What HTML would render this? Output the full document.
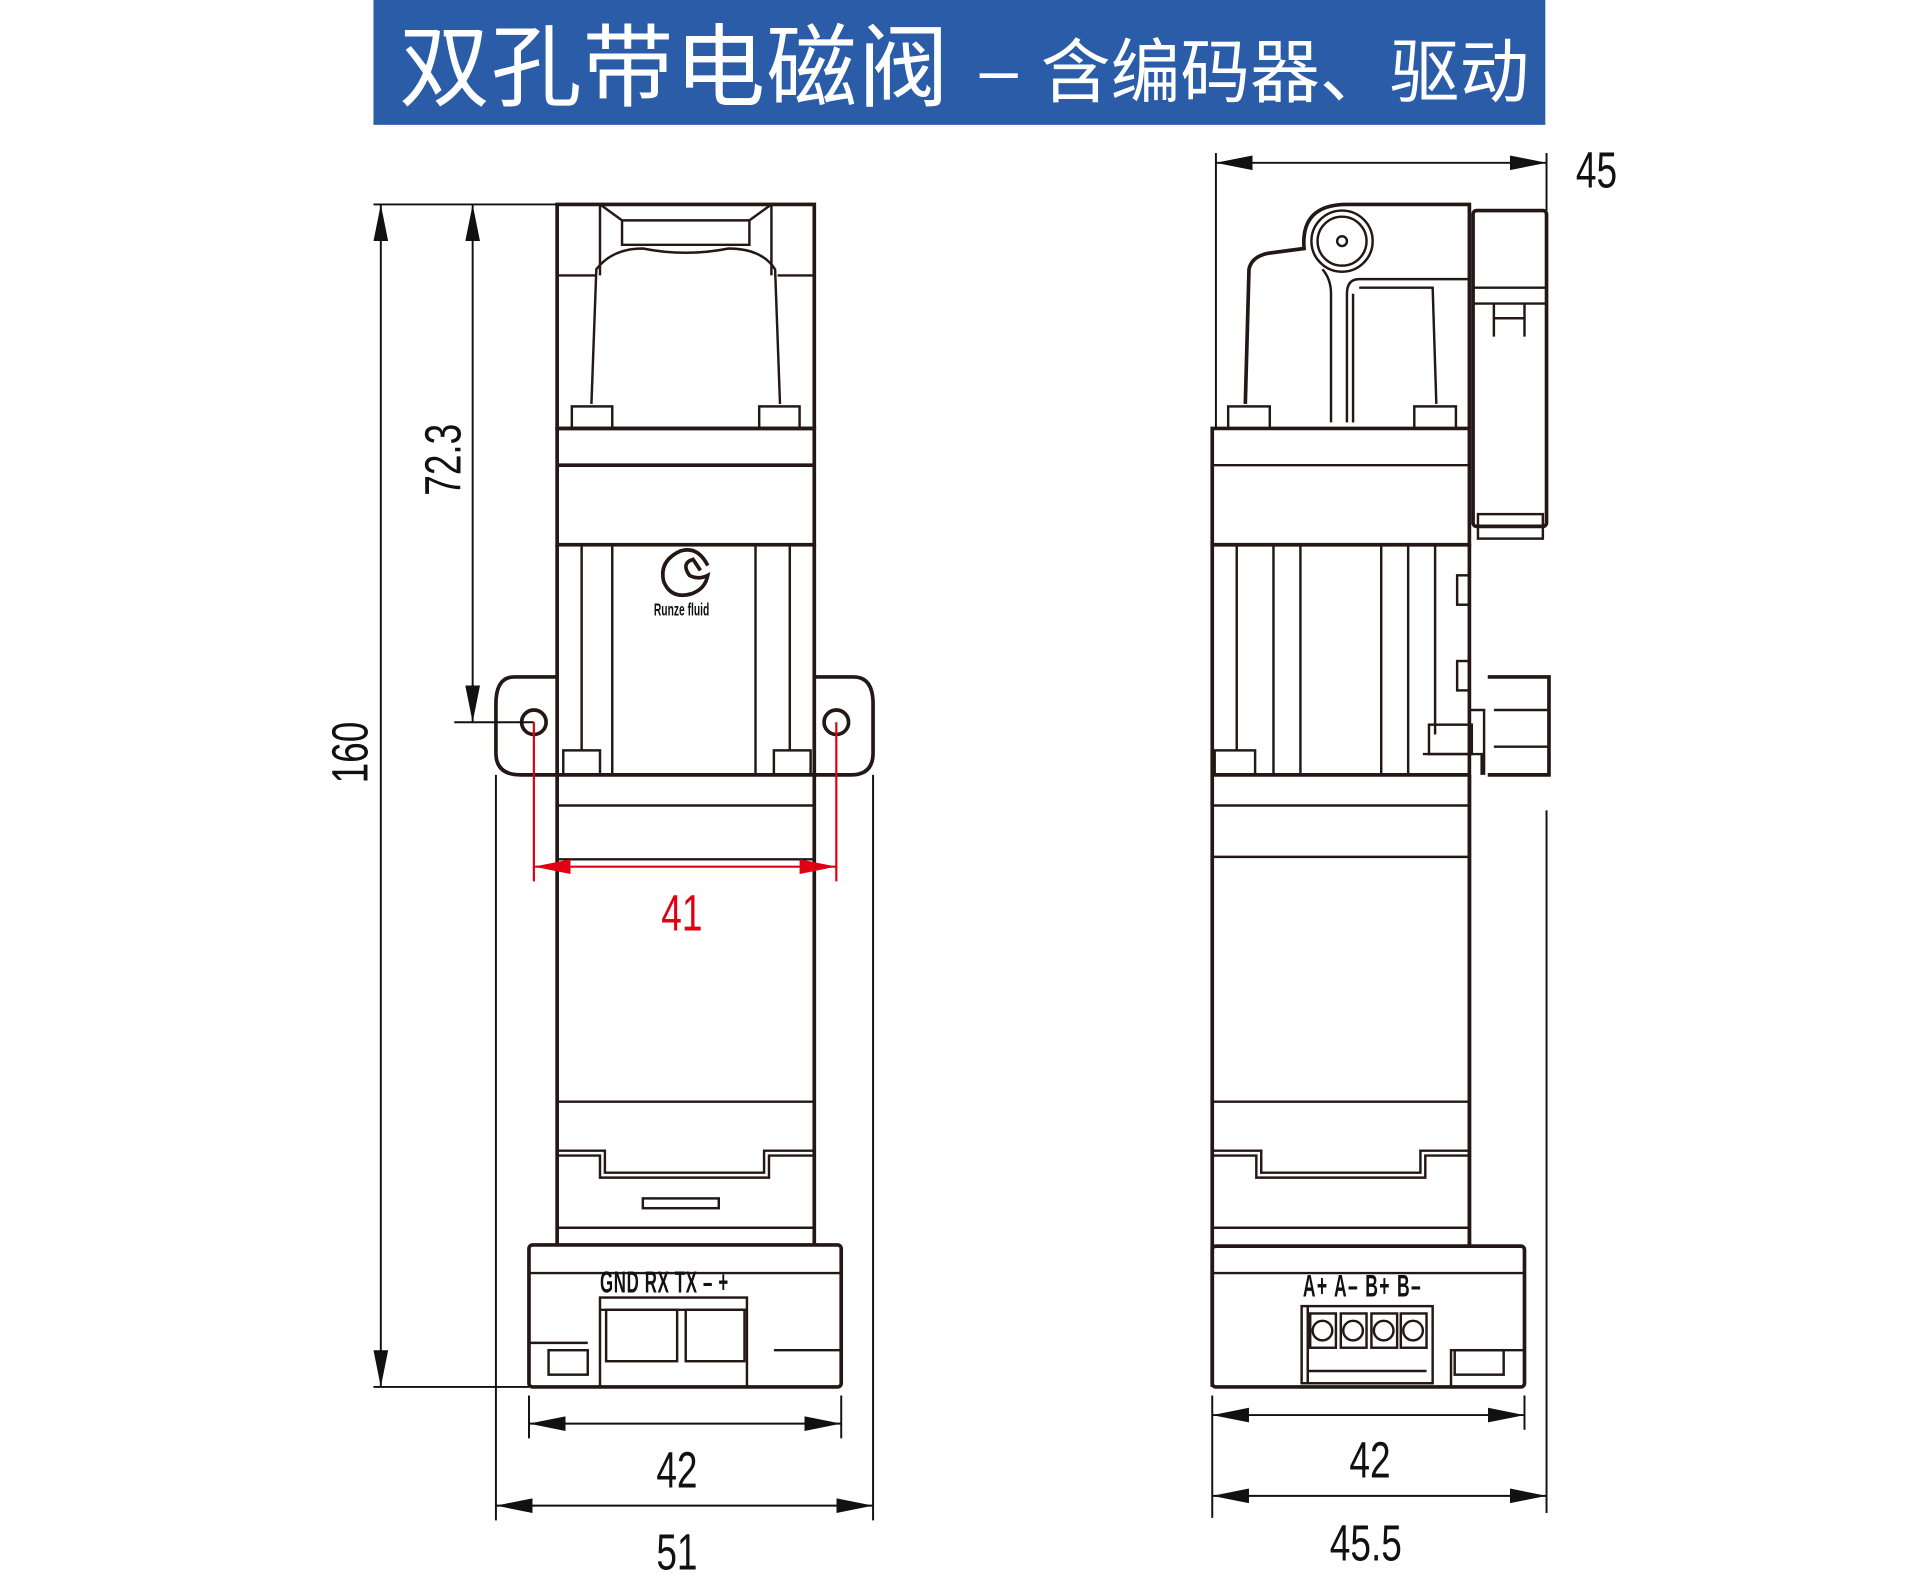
<!DOCTYPE html>
<html><head><meta charset="utf-8"><style>
html,body{margin:0;padding:0;background:#fff;}
svg{display:block;}
.t{font-family:"Liberation Sans","Noto Sans CJK SC",sans-serif;}
</style></head><body>
<svg width="1920" height="1584" viewBox="0 0 1568 1294" preserveAspectRatio="none" xmlns="http://www.w3.org/2000/svg">
<defs>
<marker id="a" viewBox="0 0 30 12" refX="30" refY="6" markerWidth="30" markerHeight="12" markerUnits="userSpaceOnUse" orient="auto-start-reverse"><path d="M0,0 L30,6 L0,12 Z" fill="#111"/></marker>
<marker id="r" viewBox="0 0 30 12" refX="30" refY="6" markerWidth="30" markerHeight="12" markerUnits="userSpaceOnUse" orient="auto-start-reverse"><path d="M0,0 L30,6 L0,12 Z" fill="#e00012"/></marker>
</defs>
<rect x="305" y="0" width="957" height="102" fill="#2a5ca8"/>
<text class="t" x="326" y="81" font-size="74" fill="#fff" letter-spacing="1">双孔带电磁阀</text>
<text class="t" x="800" y="76" font-size="56" fill="#fff">–</text>
<text class="t" x="850" y="79" font-size="57" fill="#fff">含编码器、驱动</text>

<g fill="none" stroke="#231815" stroke-width="2">
<g stroke-width="3">
<rect x="455" y="167" width="210" height="183"/>
<rect x="455" y="350" width="210" height="95"/>
<line x1="455" y1="380" x2="665" y2="380"/>
<path d="M455,445 V1017 M665,445 V1017"/>
<path d="M455,553 H420 Q405,553 405,575 V615 Q405,633 425,633 H455"/>
<path d="M665,553 H697 Q713,553 713,575 V615 Q713,633 695,633 H665"/>
<rect x="432" y="1017" width="255" height="116" rx="3"/>
</g>
<path d="M490,167 V225 M630,167 V225 M455,225 H487 M635,225 H665"/>
<path d="M508,180 H612 V200 H508 Z M490,167 L508,180 M630,167 L612,180"/>
<path d="M483,330 L487,220 Q500,203 525,203 Q560,210 595,203 Q622,203 633,220 L637,330"/>
<rect x="467" y="332" width="33" height="18"/><rect x="620" y="332" width="33" height="18"/>
<path d="M475,445 V613 M500,445 V633 M617,445 V633 M645,445 V613"/>
<rect x="460" y="613" width="30" height="20"/><rect x="632" y="613" width="30" height="20"/>
<circle cx="436" cy="590" r="10" stroke-width="3"/><circle cx="683" cy="590" r="10" stroke-width="3"/>
<line x1="455" y1="633" x2="665" y2="633" stroke-width="3"/>
<line x1="455" y1="658" x2="665" y2="658"/>
<line x1="455" y1="702" x2="665" y2="702"/>
<line x1="455" y1="900" x2="665" y2="900"/>
<path d="M455,940 H494 V958 H624 V940 H665"/>
<path d="M455,944 H490 V962 H628 V944 H665"/>
<rect x="525" y="979" width="62" height="8"/>
<line x1="455" y1="1003" x2="665" y2="1003"/>
<line x1="432" y1="1040" x2="687" y2="1040"/>
<rect x="490" y="1060" width="120" height="73"/>
<line x1="490" y1="1070" x2="610" y2="1070"/>
<rect x="495" y="1070" width="58" height="42"/><rect x="560" y="1070" width="48" height="42"/>
<rect x="448" y="1103" width="32" height="20"/>
<path d="M432,1097 H480 M632,1103 H687"/>
<g stroke="#111" stroke-width="1.6">
<line x1="305" y1="167" x2="455" y2="167"/>
<line x1="305" y1="1133" x2="432" y2="1133"/>
<line x1="371" y1="590" x2="436" y2="590"/>
<line x1="311" y1="167" x2="311" y2="1133" marker-start="url(#a)" marker-end="url(#a)"/>
<line x1="386" y1="167" x2="386" y2="590" marker-start="url(#a)" marker-end="url(#a)"/>
<line x1="432" y1="1140" x2="432" y2="1175"/><line x1="687" y1="1140" x2="687" y2="1175"/>
<line x1="432" y1="1163" x2="687" y2="1163" marker-start="url(#a)" marker-end="url(#a)"/>
<line x1="405" y1="633" x2="405" y2="1242"/><line x1="713" y1="633" x2="713" y2="1242"/>
<line x1="405" y1="1230" x2="713" y2="1230" marker-start="url(#a)" marker-end="url(#a)"/>
</g>
<g stroke="#e00012" stroke-width="1.8">
<line x1="436" y1="590" x2="436" y2="720"/><line x1="683" y1="590" x2="683" y2="720"/>
<line x1="436" y1="708" x2="683" y2="708" marker-start="url(#r)" marker-end="url(#r)"/>
</g>
<path d="M578,462 Q570,446 556,450 Q538,458 542,475 Q548,490 565,485 Q576,481 578,470 Q570,474 563,470 Q556,460 566,457 L572,466" stroke-width="3"/>

<g stroke-width="3">
<path d="M1017,330 L1020,220 Q1022,210 1035,207 L1065,203 Q1062,167 1100,167 H1200 V350"/>
<path d="M990,350 H1200 V445 H990 Z"/>
<path d="M990,445 V1133 M1200,445 V1018"/>
<rect x="990" y="1018" width="255" height="115" rx="3"/>
<rect x="1203" y="172" width="60" height="258" rx="3"/>
<path d="M1215,553 H1265 V633 H1215"/>
</g>
<circle cx="1096" cy="197" r="25"/><circle cx="1096" cy="197" r="20"/><circle cx="1096" cy="197" r="4"/>
<path d="M1080,220 Q1087,228 1087,240 V345 M1100,240 Q1100,228 1110,228 H1200 M1105,240 V345 M1100,345 V240"/>
<path d="M1110,235 H1170 L1173,330"/>
<line x1="990" y1="380" x2="1200" y2="380"/>
<rect x="1003" y="332" width="34" height="18"/><rect x="1155" y="332" width="34" height="18"/>
<path d="M1203,235 H1263 M1203,248 H1263 M1220,248 V275 M1245,248 V275 M1220,260 H1245"/>
<rect x="1207" y="420" width="53" height="20"/>
<path d="M1010,445 V613 M1040,445 V633 M1062,445 V633"/>
<rect x="992" y="613" width="33" height="20"/>
<path d="M1128,445 V633 M1150,445 V633 M1172,445 V600"/>
<rect x="1190" y="470" width="10" height="24"/><rect x="1190" y="540" width="10" height="24"/>
<rect x="1167" y="592" width="35" height="24"/>
<path d="M1162,616 H1210 V633 M1200,580 H1212 V633"/>
<path d="M1220,580 H1265 M1220,610 H1265"/>
<line x1="990" y1="633" x2="1200" y2="633" stroke-width="3"/>
<line x1="1200" y1="633" x2="1200" y2="1018" stroke-width="3"/>
<line x1="990" y1="658" x2="1200" y2="658"/>
<line x1="990" y1="700" x2="1200" y2="700"/>
<line x1="990" y1="900" x2="1200" y2="900"/>
<path d="M990,940 H1030 V958 H1160 V940 H1200"/>
<path d="M990,944 H1026 V962 H1164 V944 H1200"/>
<line x1="990" y1="1003" x2="1200" y2="1003"/>
<line x1="990" y1="1040" x2="1245" y2="1040"/>
<rect x="1063" y="1067" width="107" height="63"/>
<line x1="1068" y1="1067" x2="1068" y2="1130"/>
<g>
<rect x="1070" y="1073" width="21" height="28"/><circle cx="1080" cy="1087" r="8"/>
<rect x="1095" y="1073" width="21" height="28"/><circle cx="1105" cy="1087" r="8"/>
<rect x="1120" y="1073" width="21" height="28"/><circle cx="1130" cy="1087" r="8"/>
<rect x="1144" y="1073" width="21" height="28"/><circle cx="1154" cy="1087" r="8"/>
</g>
<line x1="1068" y1="1120" x2="1165" y2="1120"/>
<rect x="1188" y="1103" width="40" height="20"/>
<path d="M1185,1133 V1103 H1245"/>
<g stroke="#111" stroke-width="1.6">
<line x1="993" y1="125" x2="993" y2="350"/><line x1="1263" y1="125" x2="1263" y2="172"/>
<line x1="993" y1="133" x2="1263" y2="133" marker-start="url(#a)" marker-end="url(#a)"/>
<line x1="990" y1="1140" x2="990" y2="1240"/><line x1="1245" y1="1140" x2="1245" y2="1168"/>
<line x1="990" y1="1156" x2="1245" y2="1156" marker-start="url(#a)" marker-end="url(#a)"/>
<line x1="1263" y1="662" x2="1263" y2="1236"/>
<line x1="990" y1="1222" x2="1263" y2="1222" marker-start="url(#a)" marker-end="url(#a)"/>
</g>
</g>

<g class="t" font-size="42" fill="#111">
<text transform="translate(1287,153) scale(0.72,1)">45</text>
<text transform="translate(300,640) rotate(-90) scale(0.72,1)">160</text>
<text transform="translate(376,405) rotate(-90) scale(0.72,1)">72.3</text>
<text transform="translate(536,1215) scale(0.72,1)">42</text>
<text transform="translate(536,1282) scale(0.72,1)">51</text>
<text transform="translate(1102,1207) scale(0.72,1)">42</text>
<text transform="translate(1086,1275) scale(0.72,1)">45.5</text>
<text transform="translate(540,760) scale(0.72,1)" fill="#e00012">41</text>
</g>
<g class="t" font-weight="bold" fill="#111">
<text transform="translate(490,1056) scale(0.55,1)" font-size="25" letter-spacing="1">GND RX TX – +</text>
<text transform="translate(1064,1059) scale(0.55,1)" font-size="26" letter-spacing="2">A+ A– B+ B–</text>
<text transform="translate(534,503) scale(0.6,1)" font-size="14">Runze fluid</text>
</g>
</svg>
</body></html>
